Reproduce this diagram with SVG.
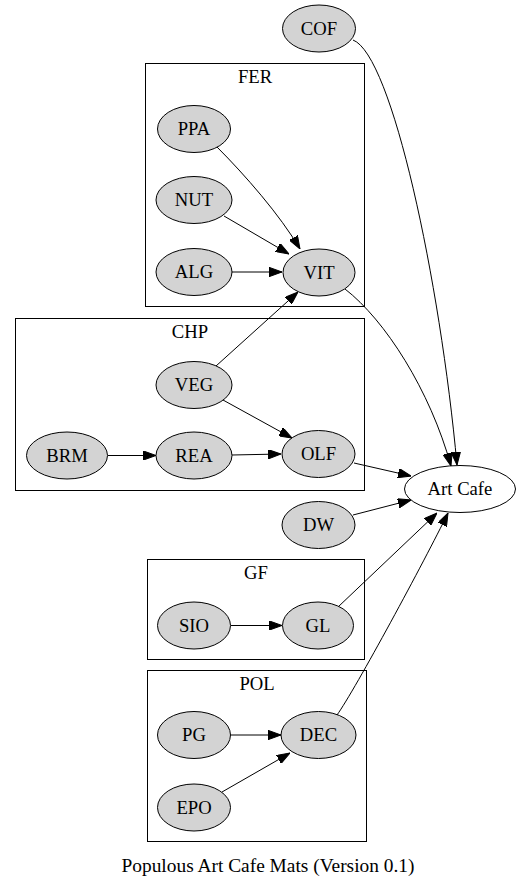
<svg xmlns="http://www.w3.org/2000/svg" width="521" height="889" viewBox="0 0 521 889">
<style>
text{font-family:"Liberation Serif","Times New Roman",serif;font-size:18.67px;fill:#000;text-anchor:middle}
.n{fill:#d3d3d3;stroke:#000;stroke-width:1}
.w{fill:#fff;stroke:#000;stroke-width:1}
.c{fill:none;stroke:#000;stroke-width:1}
.e{fill:none;stroke:#000;stroke-width:1;marker-end:url(#ah)}
</style>
<defs>
<marker id="ah" viewBox="0 0 13 9.4" refX="13" refY="4.7" markerWidth="13" markerHeight="9.4" markerUnits="userSpaceOnUse" orient="auto">
<path d="M0,0 L13,4.7 L0,9.4 z" fill="#000" stroke="#000" stroke-width="1"/>
</marker>
</defs>
<rect width="521" height="889" fill="#fff"/>
<g id="clusters">
<g id="cluster_FER"><rect class="c" x="145.5" y="63.5" width="219" height="243"/><text x="255" y="83">FER</text></g>
<g id="cluster_CHP"><rect class="c" x="15.5" y="318.5" width="349" height="172"/><text x="190" y="338">CHP</text></g>
<g id="cluster_GF"><rect class="c" x="147.5" y="559.5" width="217" height="100"/><text x="256" y="579">GF</text></g>
<g id="cluster_POL"><rect class="c" x="147.5" y="670.5" width="219" height="171"/><text x="257" y="690">POL</text></g>
</g>
<g id="edges">
<path class="e" d="M353,40 C392,55 440,280 457,465"/>
<path class="e" d="M345,289 C385,320 430,390 451,466"/>
<path class="e" d="M217,147 C245,175 280,215 300,249"/>
<path class="e" d="M224,216 L289,254"/>
<path class="e" d="M232,272 L282,272"/>
<path class="e" d="M216,366 L298,292"/>
<path class="e" d="M223,400 L292,438"/>
<path class="e" d="M108,455.5 L156,455.5"/>
<path class="e" d="M232,455 L281,454"/>
<path class="e" d="M354,463 L411,476"/>
<path class="e" d="M353,515 L411,500"/>
<path class="e" d="M338,607 L437,513"/>
<path class="e" d="M337,715 C355,690 425,560 448,513"/>
<path class="e" d="M231,625.5 L282,625.5"/>
<path class="e" d="M231,735 L281,735"/>
<path class="e" d="M222,792 L290,753"/>
</g>
<g id="COF"><ellipse class="n" cx="319" cy="28.5" rx="36.5" ry="23.5"/><text x="319" y="34.5">COF</text></g>
<g id="PPA"><ellipse class="n" cx="194" cy="129" rx="36.5" ry="23.5"/><text x="194" y="135">PPA</text></g>
<g id="NUT"><ellipse class="n" cx="194" cy="200" rx="38" ry="23.5"/><text x="194" y="206">NUT</text></g>
<g id="ALG"><ellipse class="n" cx="194" cy="272" rx="38" ry="23.5"/><text x="194" y="278">ALG</text></g>
<g id="VIT"><ellipse class="n" cx="319" cy="272.5" rx="36" ry="23.5"/><text x="319" y="278.5">VIT</text></g>
<g id="VEG"><ellipse class="n" cx="194" cy="385" rx="38" ry="23.5"/><text x="194" y="391">VEG</text></g>
<g id="BRM"><ellipse class="n" cx="67" cy="455.5" rx="40.5" ry="23.5"/><text x="67" y="461.5">BRM</text></g>
<g id="REA"><ellipse class="n" cx="194" cy="455.5" rx="38" ry="23.5"/><text x="194" y="461.5">REA</text></g>
<g id="OLF"><ellipse class="n" cx="318.5" cy="454" rx="36.5" ry="23.5"/><text x="318.5" y="460">OLF</text></g>
<g id="ArtCafe"><ellipse class="w" cx="460" cy="489" rx="55.5" ry="23.5"/><text x="460" y="495">Art Cafe</text></g>
<g id="DW"><ellipse class="n" cx="318.5" cy="525" rx="36.5" ry="23.5"/><text x="318.5" y="531">DW</text></g>
<g id="SIO"><ellipse class="n" cx="194" cy="625.5" rx="36.5" ry="23.5"/><text x="194" y="631.5">SIO</text></g>
<g id="GL"><ellipse class="n" cx="318" cy="625.5" rx="35.5" ry="23.5"/><text x="318" y="631.5">GL</text></g>
<g id="PG"><ellipse class="n" cx="194" cy="735" rx="36.5" ry="23.5"/><text x="194" y="741">PG</text></g>
<g id="DEC"><ellipse class="n" cx="318.5" cy="735" rx="37.5" ry="23.5"/><text x="318.5" y="741">DEC</text></g>
<g id="EPO"><ellipse class="n" cx="194" cy="807.5" rx="36.5" ry="23.5"/><text x="194" y="813.5">EPO</text></g>
<text id="title" x="268" y="872" textLength="293" lengthAdjust="spacingAndGlyphs">Populous Art Cafe Mats (Version 0.1)</text>
</svg>
